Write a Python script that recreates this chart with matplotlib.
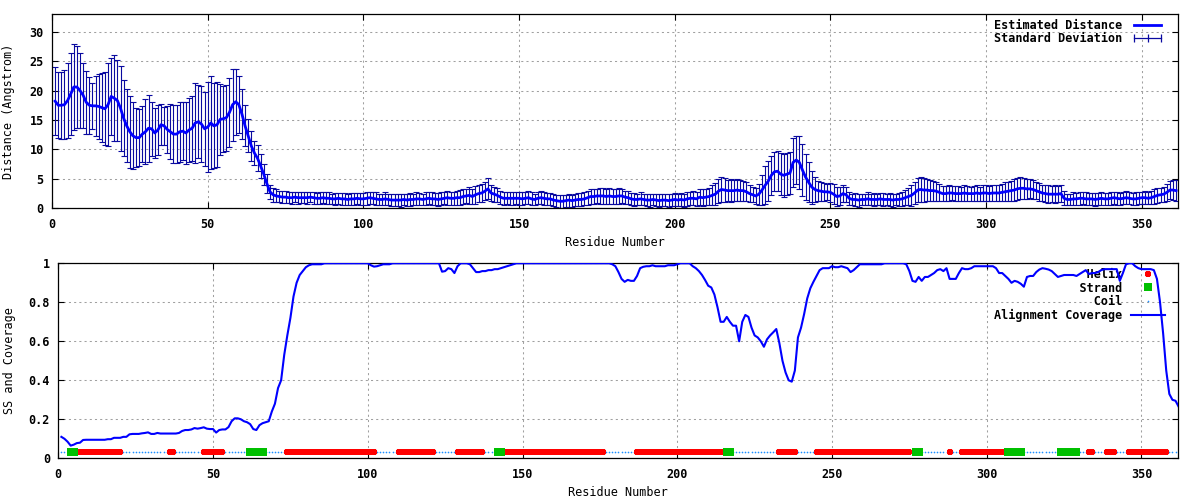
import numpy as np
import matplotlib
matplotlib.use("Agg")
import matplotlib.pyplot as plt
from matplotlib.lines import Line2D

### data

# estimated distance per residue (1..361)
dist_mean = [
    18.2, 17.5, 17.5, 17.6, 18.3, 19.4, 20.6, 20.6, 20.0, 19.2,
    18.0, 17.5, 17.4, 17.4, 17.3, 17.1, 16.9, 17.6, 19.0, 18.7,
    18.3, 17.0, 15.3, 14.0, 13.0, 12.3, 12.0, 12.0, 12.6, 13.0,
    13.6, 13.5, 12.8, 13.3, 14.2, 14.0, 13.4, 13.0, 12.6, 12.6,
    13.0, 13.1, 12.8, 13.3, 13.6, 14.5, 14.7, 14.3, 13.5, 13.8,
    14.5, 14.0, 14.2, 15.1, 15.2, 15.4, 16.3, 17.6, 18.1, 17.6,
    16.0, 14.0, 12.3, 10.6, 9.4, 8.5, 7.2, 5.8, 4.2, 2.8,
    2.3, 2.1, 2.0, 1.9, 1.9, 1.8, 1.8, 1.9, 1.8, 1.8,
    1.8, 1.8, 1.9, 1.8, 1.7, 1.7, 1.8, 1.7, 1.7, 1.6,
    1.6, 1.7, 1.6, 1.6, 1.5, 1.6, 1.6, 1.7, 1.6, 1.6,
    1.7, 1.8, 1.7, 1.6, 1.5, 1.5, 1.6, 1.5, 1.4, 1.4,
    1.4, 1.4, 1.5, 1.4, 1.5, 1.5, 1.6, 1.6, 1.5, 1.6,
    1.7, 1.6, 1.6, 1.5, 1.6, 1.7, 1.8, 1.7, 1.7, 1.8,
    1.8, 2.0, 2.1, 2.2, 2.0, 2.3, 2.5, 2.6, 2.9, 3.3,
    2.6, 2.4, 2.2, 1.9, 1.7, 1.7, 1.7, 1.7, 1.7, 1.7,
    1.6, 1.7, 1.8, 1.6, 1.5, 1.7, 1.8, 1.7, 1.6, 1.6,
    1.4, 1.3, 1.2, 1.2, 1.3, 1.4, 1.3, 1.4, 1.5, 1.5,
    1.6, 1.8, 2.0, 2.0, 2.1, 2.1, 2.1, 2.0, 2.1, 2.0,
    2.0, 2.1, 2.1, 1.9, 1.8, 1.6, 1.5, 1.5, 1.6, 1.5,
    1.4, 1.4, 1.5, 1.4, 1.3, 1.4, 1.4, 1.3, 1.4, 1.5,
    1.4, 1.5, 1.4, 1.6, 1.7, 1.7, 1.6, 1.9, 1.8, 1.9,
    2.0, 2.2, 2.4, 2.9, 3.2, 3.1, 3.0, 3.0, 3.0, 3.1,
    3.0, 3.0, 2.8, 2.5, 2.3, 2.1, 2.4, 3.1, 3.9, 4.6,
    5.6, 6.2, 6.3, 5.8, 5.6, 5.8, 6.0, 7.8, 8.2, 7.8,
    6.5, 5.3, 4.4, 3.6, 3.2, 3.0, 2.9, 2.8, 2.8, 2.7,
    2.4, 2.0, 2.1, 2.5, 2.3, 1.7, 1.5, 1.5, 1.4, 1.5,
    1.5, 1.6, 1.5, 1.5, 1.5, 1.6, 1.5, 1.5, 1.5, 1.4,
    1.5, 1.5, 1.6, 1.8, 2.0, 2.2, 2.6, 3.1, 3.2, 3.1,
    3.1, 3.0, 3.0, 2.9, 2.7, 2.5, 2.5, 2.6, 2.6, 2.5,
    2.5, 2.5, 2.6, 2.5, 2.5, 2.5, 2.6, 2.5, 2.6, 2.6,
    2.5, 2.6, 2.6, 2.6, 2.7, 2.8, 2.9, 3.0, 3.1, 3.3,
    3.4, 3.4, 3.3, 3.3, 3.2, 3.0, 2.8, 2.6, 2.5, 2.4,
    2.4, 2.4, 2.4, 2.5, 1.7, 1.5, 1.5, 1.6, 1.6, 1.7,
    1.7, 1.6, 1.6, 1.6, 1.5, 1.6, 1.7, 1.6, 1.6, 1.7,
    1.8, 1.7, 1.6, 1.7, 1.8, 1.7, 1.6, 1.6, 1.7, 1.8,
    1.8, 1.7, 1.8, 2.0, 2.2, 2.3, 2.4, 2.7, 3.1, 3.1, 3.0,
]

# standard deviation per residue (1..361)
dist_std = [
    5.8, 5.6, 5.7, 5.9, 6.3, 6.9, 7.3, 6.9, 6.4, 5.5,
    5.4, 4.8, 3.9, 5.1, 5.5, 5.9, 6.2, 7.0, 6.6, 7.3,
    6.9, 7.2, 6.5, 6.2, 6.1, 5.7, 5.0, 4.9, 4.7, 5.5,
    5.7, 4.6, 4.3, 4.2, 3.5, 3.2, 4.0, 4.7, 4.9, 4.9,
    5.1, 4.9, 5.3, 5.4, 5.5, 6.8, 6.2, 6.5, 6.3, 7.7,
    7.9, 7.2, 7.2, 6.0, 5.6, 5.6, 5.9, 6.1, 5.6, 4.8,
    4.2, 3.5, 2.8, 2.5, 2.0, 2.2, 2.0, 1.8, 1.6, 1.2,
    1.2, 1.1, 1.0, 1.0, 1.0, 0.9, 1.0, 0.9, 1.0, 0.9,
    0.9, 1.0, 0.9, 1.0, 0.9, 1.0, 0.9, 1.0, 1.0, 0.9,
    1.0, 0.9, 1.0, 1.0, 0.9, 1.0, 1.0, 0.9, 1.0, 1.0,
    1.1, 1.0, 1.0, 1.1, 1.0, 1.0, 1.1, 1.0, 1.0, 1.0,
    1.0, 1.1, 1.0, 1.0, 1.1, 1.0, 1.1, 1.0, 1.0, 1.1,
    1.0, 1.1, 1.0, 1.1, 1.1, 1.0, 1.2, 1.1, 1.1, 1.2,
    1.3, 1.3, 1.2, 1.4, 1.3, 1.5, 1.4, 1.6, 1.5, 1.8,
    1.4, 1.3, 1.2, 1.1, 1.1, 1.0, 1.1, 1.1, 1.0, 1.1,
    1.1, 1.0, 1.1, 1.1, 1.0, 1.0, 1.1, 1.1, 1.0, 1.0,
    1.0, 1.0, 1.1, 1.1, 1.0, 1.1, 1.0, 1.0, 1.1, 1.1,
    1.1, 1.2, 1.2, 1.3, 1.2, 1.3, 1.3, 1.2, 1.4, 1.3,
    1.2, 1.3, 1.2, 1.1, 1.1, 1.0, 1.1, 1.0, 1.1, 1.0,
    1.0, 1.1, 1.0, 1.0, 1.1, 1.0, 1.0, 1.1, 1.0, 1.1,
    1.0, 1.1, 1.1, 1.2, 1.1, 1.2, 1.2, 1.3, 1.4, 1.4,
    1.5, 1.7, 1.9, 2.0, 2.1, 2.0, 1.8, 1.9, 1.8, 1.8,
    1.8, 1.7, 1.6, 1.4, 1.3, 1.4, 1.8, 2.5, 3.2, 3.4,
    3.3, 3.3, 3.4, 3.6, 3.7, 3.6, 3.6, 4.1, 4.1, 4.5,
    4.4, 3.9, 3.4, 2.8, 2.2, 1.7, 1.6, 1.5, 1.4, 1.6,
    1.7, 1.6, 1.5, 1.4, 1.3, 1.1, 1.0, 1.1, 1.1, 1.0,
    1.0, 1.1, 1.0, 1.1, 1.0, 1.0, 1.1, 1.0, 1.1, 1.1,
    1.0, 1.1, 1.2, 1.3, 1.5, 1.8, 1.9, 2.0, 2.1, 2.0,
    1.9, 1.8, 1.7, 1.6, 1.4, 1.3, 1.3, 1.3, 1.2, 1.3,
    1.3, 1.2, 1.3, 1.3, 1.2, 1.3, 1.3, 1.2, 1.4, 1.3,
    1.3, 1.4, 1.3, 1.4, 1.5, 1.6, 1.6, 1.7, 1.8, 1.9,
    1.9, 1.8, 1.7, 1.6, 1.6, 1.5, 1.5, 1.4, 1.5, 1.5,
    1.4, 1.5, 1.4, 1.5, 1.2, 1.0, 1.0, 1.1, 1.0, 1.1,
    1.0, 1.1, 1.0, 1.0, 1.1, 1.0, 1.1, 1.0, 1.0, 1.1,
    1.0, 1.1, 1.0, 1.0, 1.1, 1.0, 1.0, 1.1, 1.0, 1.0,
    1.1, 1.0, 1.1, 1.2, 1.3, 1.2, 1.3, 1.4, 1.5, 1.7, 1.8,
]

# alignment coverage per residue (1..362)
coverage = [
    0.11, 0.10, 0.085, 0.065, 0.07, 0.078, 0.08, 0.094, 0.095, 0.095,
    0.095, 0.095, 0.095, 0.095, 0.095, 0.098, 0.098, 0.105, 0.105, 0.105,
    0.11, 0.11, 0.123, 0.125, 0.125, 0.125, 0.128, 0.13, 0.133, 0.125,
    0.125, 0.13, 0.127, 0.127, 0.127, 0.127, 0.127, 0.127, 0.13, 0.14,
    0.145, 0.145, 0.148, 0.155, 0.152, 0.155, 0.159, 0.152, 0.15, 0.15,
    0.132, 0.145, 0.148, 0.148, 0.16, 0.19, 0.205, 0.205, 0.2, 0.19,
    0.185, 0.175, 0.15, 0.145, 0.17, 0.18, 0.185, 0.19, 0.24, 0.28,
    0.36, 0.40, 0.53, 0.63, 0.72, 0.83, 0.90, 0.94, 0.96, 0.98,
    0.99, 0.995, 0.995, 0.995, 0.995, 1.0, 1.0, 1.0, 1.0, 1.0,
    1.0, 1.0, 1.0, 1.0, 1.0, 1.0, 1.0, 1.0, 1.0, 1.0,
    0.99, 0.983, 0.985, 0.99, 0.995, 0.995, 0.995, 1.0, 1.0, 1.0,
    1.0, 1.0, 1.0, 1.0, 1.0, 1.0, 1.0, 1.0, 1.0, 1.0,
    1.0, 1.0, 1.0, 0.957, 0.96, 0.975, 0.97, 0.95, 0.985, 1.0,
    1.0, 1.0, 0.995, 0.975, 0.955, 0.955, 0.96, 0.96, 0.965, 0.965,
    0.97, 0.97, 0.975, 0.98, 0.985, 0.99, 0.995, 1.0, 1.0, 1.0,
    1.0, 1.0, 1.0, 1.0, 1.0, 1.0, 1.0, 1.0, 1.0, 1.0,
    1.0, 1.0, 1.0, 1.0, 1.0, 1.0, 1.0, 1.0, 1.0, 1.0,
    1.0, 1.0, 1.0, 1.0, 1.0, 1.0, 1.0, 1.0, 0.995, 0.985,
    0.955, 0.92, 0.905, 0.915, 0.91, 0.91, 0.935, 0.975, 0.982, 0.985,
    0.985, 0.99, 0.985, 0.985, 0.985, 0.985, 0.99, 0.99, 0.99, 0.995,
    1.0, 1.0, 1.0, 1.0, 0.985, 0.975, 0.96, 0.94, 0.914, 0.885,
    0.876, 0.84, 0.775, 0.70, 0.70, 0.725, 0.70, 0.68, 0.68, 0.60,
    0.70, 0.735, 0.725, 0.67, 0.63, 0.62, 0.60, 0.572, 0.61, 0.63,
    0.646, 0.663, 0.59, 0.50, 0.44, 0.40, 0.393, 0.45, 0.62, 0.67,
    0.74, 0.82, 0.872, 0.905, 0.935, 0.965, 0.975, 0.975, 0.975, 0.985,
    0.98, 0.98, 0.985, 0.98, 0.975, 0.955, 0.965, 0.98, 0.995, 0.995,
    0.995, 0.995, 0.995, 0.995, 0.995, 0.995, 1.0, 1.0, 1.0, 1.0,
    1.0, 1.0, 1.0, 0.995, 0.96, 0.91, 0.905, 0.93, 0.91, 0.93,
    0.93, 0.94, 0.95, 0.965, 0.97, 0.96, 0.975, 0.92, 0.92, 0.92,
    0.95, 0.975, 0.97, 0.97, 0.975, 0.985, 0.985, 0.985, 0.985, 0.985,
    0.985, 0.985, 0.975, 0.95, 0.95, 0.935, 0.92, 0.90, 0.91, 0.905,
    0.895, 0.88, 0.93, 0.935, 0.935, 0.955, 0.968, 0.975, 0.972, 0.968,
    0.96, 0.945, 0.93, 0.935, 0.94, 0.94, 0.94, 0.94, 0.935, 0.945,
    0.955, 0.965, 0.945, 0.95, 0.95, 0.955, 0.965, 0.97, 0.97, 0.97,
    0.97, 0.97, 0.91, 0.95, 0.995, 1.0, 1.0, 0.985, 0.975, 0.97,
    0.97, 0.97, 0.97, 0.965, 0.92, 0.80, 0.64, 0.45, 0.33, 0.30,
    0.295, 0.265,
]

# secondary structure segments (first, last residue)
helix_segments = [(7, 20), (36, 37), (47, 53), (74, 102), (110, 121), (129, 137),
                  (145, 176), (187, 214), (233, 238), (245, 275), (288, 288),
                  (292, 305), (333, 334), (339, 341), (346, 358)]
strand_segments = [(4, 5), (62, 66), (142, 143), (216, 217), (277, 278),
                   (307, 311), (324, 329)]
n_residues = 361
ss_level = 0.03

dist_yticks = [0, 5, 10, 15, 20, 25, 30]
cov_yticks = [0, 0.2, 0.4, 0.6, 0.8, 1.0]
cov_yticklabels = ["0", "0.2", "0.4", "0.6", "0.8", "1"]
res_xticks = [0, 50, 100, 150, 200, 250, 300, 350]

### style
plt.rcParams['font.family'] = ['DejaVu Sans Mono']
plt.rcParams['font.weight'] = 'bold'
plt.rcParams['font.size'] = 8.5

res = np.arange(1, len(dist_mean) + 1)
res_cov = np.arange(1, len(coverage) + 1)

helix_res = np.concatenate([np.arange(a, b + 1) for a, b in helix_segments])
strand_res = np.concatenate([np.arange(a, b + 1) for a, b in strand_segments])
all_res = np.arange(1, n_residues + 1)
coil_res = np.setdiff1d(all_res, np.concatenate([helix_res, strand_res]))

ERR_COL = "#0a0aa0"
LINE_COL = "#0000ff"
GRID_COL = "#a0a0a0"


def style_axes(ax):
    ax.grid(True, color=GRID_COL, linestyle=(0, (2, 3)), linewidth=0.75)
    ax.tick_params(direction="in", top=True, right=True, length=4, width=0.8)
    ax.tick_params(axis="x", pad=7)
    ax.tick_params(axis="y", pad=6)
    for s in ax.spines.values():
        s.set_linewidth(0.9)
    ax.set_xticks(res_xticks)


fig = plt.figure(figsize=(12, 5), dpi=100)

### top: distance
ax1 = fig.add_axes([0.04333, 0.5834, 0.93833, 0.3886])
ax1.errorbar(res, dist_mean, yerr=dist_std, fmt="none", ecolor=ERR_COL,
             elinewidth=0.8, capsize=2, capthick=0.8, zorder=2)
ax1.plot(res, dist_mean, color=LINE_COL, lw=2, zorder=3)
style_axes(ax1)
ax1.set_xlim(0, 361.6)
ax1.set_ylim(0, 33)
ax1.set_yticks(dist_yticks)
ax1.set_xlabel("Residue Number")
ax1.set_ylabel("Distance (Angstrom)")
ax1.xaxis.set_label_coords(0.5, -0.14)
ax1.yaxis.set_label_coords(-0.033, 0.5)

h1 = [Line2D([], [], color=LINE_COL, lw=2),
      Line2D([], [], color=ERR_COL, lw=0.9, marker="|", ms=6, mew=0.9)]
l1 = ["Estimated Distance", "Standard Deviation"]
leg1 = ax1.legend(h1, l1, loc="upper right", bbox_to_anchor=(0.9926, 1.0),
                  borderaxespad=0, frameon=False, markerfirst=False,
                  handlelength=2.9, handletextpad=0.7, labelspacing=0.05,
                  numpoints=3)

### bottom: SS and coverage
ax2 = fig.add_axes([0.04858, 0.0834, 0.93308, 0.39])
ax2.plot(coil_res, np.full(len(coil_res), ss_level), ls="none", marker="o",
         ms=1.2, color="#1e90ff", mew=0, zorder=3)
ax2.plot(helix_res, np.full(len(helix_res), ss_level), ls="none", marker="+",
         ms=4.5, mew=3, color="#ff0000", zorder=3)
ax2.plot(strand_res, np.full(len(strand_res), ss_level), ls="none", marker="s",
         ms=5.3, mew=0, color="#00c000", zorder=3)
ax2.plot(res_cov, coverage, color=LINE_COL, lw=1.5, zorder=4)
style_axes(ax2)
ax2.set_xlim(0, 361.8)
ax2.set_ylim(0, 1)
ax2.set_yticks(cov_yticks)
ax2.set_yticklabels(cov_yticklabels)
ax2.set_xlabel("Residue Number")
ax2.set_ylabel("SS and Coverage")
ax2.xaxis.set_label_coords(0.5, -0.14)
ax2.yaxis.set_label_coords(-0.038, 0.5)

h2 = [Line2D([], [], ls="none", marker="+", ms=4.5, mew=3, color="#ff0000"),
      Line2D([], [], ls="none", marker="s", ms=5.3, mew=0, color="#00c000"),
      Line2D([], [], ls="none", marker="o", ms=1.2, mew=0, color="#1e90ff"),
      Line2D([], [], color=LINE_COL, lw=1.5)]
l2 = [s.rjust(18) for s in ["Helix", "Strand", "Coil", "Alignment Coverage"]]
leg2 = ax2.legend(h2, l2, loc="upper right", bbox_to_anchor=(0.9926, 1.0),
                  borderaxespad=0, frameon=False, markerfirst=False,
                  handlelength=2.9, handletextpad=0.7, labelspacing=0.05,
                  numpoints=1)
leg2.set_zorder(1.8)

fig.savefig("out.png", dpi=100)
